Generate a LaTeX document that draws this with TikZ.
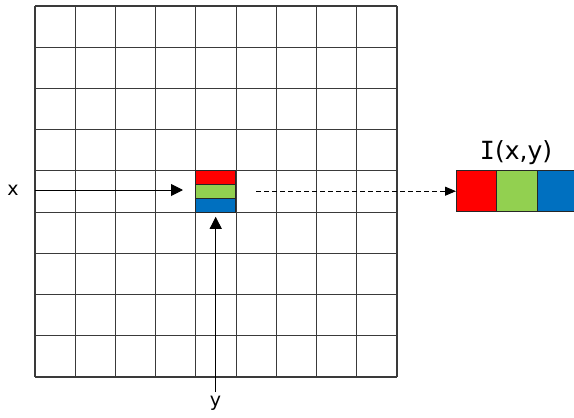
\documentclass[tikz,border=0pt]{standalone}
\usepackage{fontspec}
\setmainfont{DejaVu Sans}
\newfontfamily\barI{DejaVu Sans Mono}
\usetikzlibrary{arrows.meta}
\definecolor{pxred}{HTML}{FF0000}
\definecolor{pxgreen}{HTML}{92D050}
\definecolor{pxblue}{HTML}{0070C0}
\definecolor{gridgray}{HTML}{3A3A3A}
\begin{document}
\begin{tikzpicture}[x=1pt,y=-1pt,
  gridline/.style={draw=gridgray, line width=1.1pt},
  stripe/.style={draw=black!85, line width=1pt, minimum width=40pt,
    minimum height=13.8pt, inner sep=0pt, outer sep=0pt, anchor=north west},
  chan/.style={draw=black!85, line width=1pt, minimum width=40.5pt,
    minimum height=41pt, inner sep=0pt, outer sep=0pt, anchor=north west},
  pointer/.style={line width=1pt, -{Triangle[length=12pt,width=12pt]}},
  dashpointer/.style={line width=1pt, dash pattern=on 5pt off 3pt,
    -{Triangle[length=11pt,width=9pt]}},
  lbl/.style={font=\fontsize{19}{19}\selectfont, inner sep=0pt},
  title/.style={font=\fontsize{25}{25}\selectfont, inner sep=0pt}
]
\useasboundingbox (0,0) rectangle (574,418);

% 9 x 9 image grid
\foreach \i in {0,...,9} {
  \draw[gridline] ({35+\i*40.22},6) -- ({35+\i*40.22},377);
  \draw[gridline] (35,{6+\i*41.22}) -- (397,{6+\i*41.22});
}

% the pixel at (x,y), split into its three colour channels
\node[stripe, fill=pxred]   (pr) at (195.9,170.9) {};
\node[stripe, fill=pxgreen] (pg) at (195.9,184.7) {};
\node[stripe, fill=pxblue]  (pb) at (195.9,198.5) {};

% channel vector I(x,y)
\node[chan, fill=pxred]   (cr) at (456,170.7) {};
\node[chan, fill=pxgreen] (cg) at (496.5,170.7) {};
\node[chan, fill=pxblue]  (cb) at (537,170.7) {};
\node[title] (ilbl) at (516,153) {{\barI I}(x,y)};

% coordinate labels
\node[lbl] (xl) at (13,190) {x};
\node[lbl] (yl) at (215.5,403) {y};

% pointers
\coordinate (xs) at (35,190);
\coordinate (xe) at (183,190);
\coordinate (ys) at (215.7,392);
\coordinate (ye) at (215.7,216.8);
\coordinate (ds) at (256,191.2);
\draw[pointer] (xs) -- (xe);
\draw[pointer] (ys) -- (ye);
\draw[dashpointer] (ds) -- (cr.west);
\end{tikzpicture}
\end{document}
